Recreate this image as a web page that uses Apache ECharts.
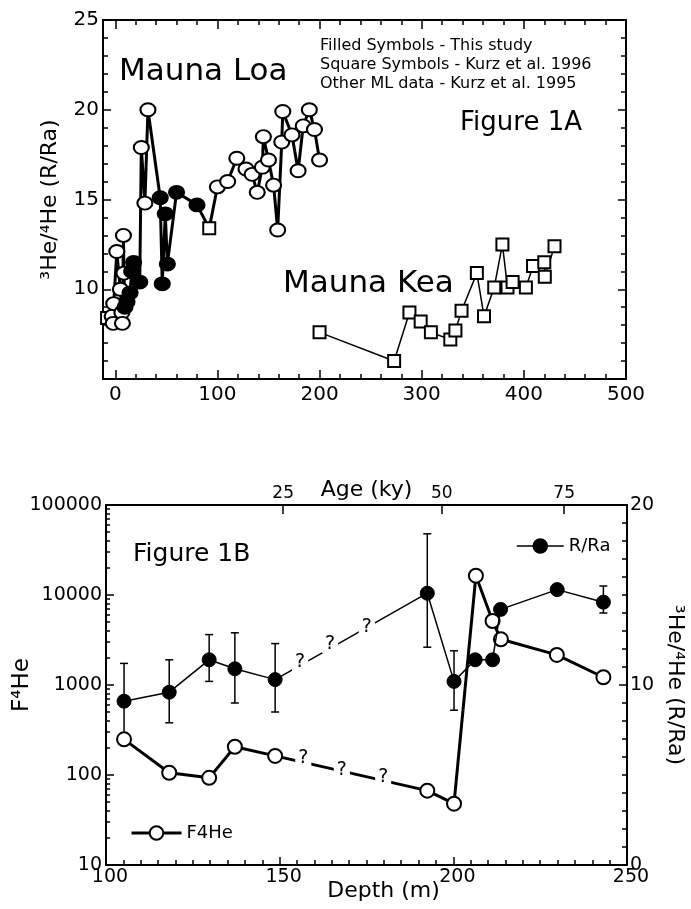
<!DOCTYPE html>
<html>
<head>
<meta charset="utf-8">
<script src="https://cdn.jsdelivr.net/npm/echarts@6/dist/echarts.min.js"></script>
<style>
html, body { margin: 0; padding: 0; background: #fff; }
#chart { width: 691px; height: 909px; }
</style>
</head>
<body>
<div id="chart"></div>
<script>
// ---- Figure 1A : Mauna Loa (o = open circle, f = filled circle, s = square)
var mlDepth = [-8, -3, -2, -1.5, 1.5, 5, 6.5, 7, 8, 8.5, 9.5, 11.5, 14.5, 16, 18, 24, 25.5, 29, 32, 44, 46, 49, 51, 60, 80, 92,
    100, 110, 119, 128, 134, 139, 144, 145, 150, 155, 159, 163, 164, 173, 179, 184, 190, 195, 200];
var mlRatio = [8.4, 8.5, 8.1, 9.2, 12.1, 10.0, 8.7, 8.1, 13.0, 10.9, 9.0, 9.3, 9.8, 11.0, 11.5, 10.4, 17.9, 14.8, 20.0, 15.1, 10.3, 14.2, 11.4, 15.4, 14.7, 13.4,
    15.7, 16.0, 17.3, 16.7, 16.4, 15.4, 16.8, 18.5, 17.2, 15.8, 13.3, 18.2, 19.9, 18.6, 16.6, 19.1, 20.0, 18.9, 17.2];
var mlKind = ['s', 'o', 'o', 'o', 'o', 'o', 'o', 'o', 'o', 'o', 'f', 'f', 'f', 'f', 'f', 'f', 'o', 'o', 'o', 'f', 'f', 'f', 'f', 'f', 'f', 's',
    'o', 'o', 'o', 'o', 'o', 'o', 'o', 'o', 'o', 'o', 'o', 'o', 'o', 'o', 'o', 'o', 'o', 'o', 'o'];

// Mauna Kea (squares)
var mkDepth = [200, 273, 288, 299, 309, 328, 333, 339, 354, 361, 371, 379, 384, 389, 402, 409, 420, 420.5, 430];
var mkRatio = [7.6, 6.0, 8.7, 8.2, 7.6, 7.2, 7.7, 8.8, 10.9, 8.5, 10.1, 12.5, 10.1, 10.4, 10.1, 11.3, 11.5, 10.7, 12.4];

var xLabelsA = [0, 100, 200, 300, 400, 500];

// ---- Figure 1B
var rrDepth = [105.2, 118.2, 129.7, 137.1, 148.7, 192.5, 200.2, 206.3, 211.3, 213.6, 229.9, 243.2];
var rrValue = [9.1, 9.6, 11.4, 10.9, 10.3, 15.1, 10.2, 11.4, 11.4, 14.2, 15.3, 14.6];
var rrHigh = [11.2, 11.4, 12.8, 12.9, 12.3, 18.4, 11.9, null, null, 14.5, null, 15.5];
var rrLow = [7.3, 7.9, 10.2, 9.0, 8.5, 12.1, 8.6, null, null, 13.9, null, 14.0];

var fhDepth = [105.2, 118.2, 129.7, 137.1, 148.7, 192.5, 200.2, 206.5, 211.3, 213.7, 229.8, 243.2];
var fhValue = [249, 106, 93, 206, 163, 67, 48, 16400, 5140, 3220, 2160, 1220];

// the "?" marks on the uncertain stretch
var rrQDepth = [155.9, 164.5, 175.1];
var rrQValue = [11.3, 12.3, 13.2];
var fhQDepth = [156.8, 167.9, 179.8];
var fhQValue = [153, 114, 96];

// age scale on top (depth position of each age)
var ageDepth = [151, 196.7, 231.9];
var ageLabel = ['25', '50', '75'];

var black = '#000';
var fnt = 'DejaVu Sans';

var minorA = [];
for (var t = 0; t <= 500; t += 20) minorA.push(t);
var logMinor = [];
[10, 100, 1000, 10000].forEach(function (d) {
    for (var k = 2; k <= 9; k++) logMinor.push(d * k);
});

function line(show) {
    return {show: show, onZero: false, lineStyle: {color: black, width: 2}};
}
function tick(len, vals) {
    var o = {show: true, inside: true, length: len, lineStyle: {color: black, width: 1.5}};
    if (vals) o.customValues = vals;
    return o;
}
var noLabel = {show: false};
var noSplit = {show: false};

var mlData = mlDepth.map(function (d, i) {
    var k = mlKind[i];
    return {
        value: [d, mlRatio[i]],
        symbol: k === 's' ? 'rect' : 'circle',
        symbolSize: k === 's' ? 12 : [15, 13],
        itemStyle: {color: k === 'f' ? black : '#fff'}
    };
});
var mkData = mkDepth.map(function (d, i) { return [d, mkRatio[i]]; });
var rrData = rrDepth.map(function (d, i) { return [d, rrValue[i]]; });
var fhData = fhDepth.map(function (d, i) { return [d, fhValue[i]]; });
var errData = [];
rrDepth.forEach(function (d, i) {
    if (rrHigh[i] != null) errData.push([d, rrHigh[i], rrLow[i]]);
});
var rrQData = rrQDepth.map(function (d, i) { return [d, rrQValue[i]]; });
var fhQData = fhQDepth.map(function (d, i) { return [d, fhQValue[i]]; });

function renderErr(params, api) {
    var hi = api.coord([api.value(0), api.value(1)]);
    var lo = api.coord([api.value(0), api.value(2)]);
    var c = 4;
    var st = {stroke: black, lineWidth: 1.5};
    return {
        type: 'group',
        children: [
            {type: 'line', shape: {x1: hi[0], y1: hi[1], x2: lo[0], y2: lo[1]}, style: st},
            {type: 'line', shape: {x1: hi[0] - c, y1: hi[1], x2: hi[0] + c, y2: hi[1]}, style: st},
            {type: 'line', shape: {x1: lo[0] - c, y1: lo[1], x2: lo[0] + c, y2: lo[1]}, style: st}
        ]
    };
}

// "?" drawn with a white box so it cuts a gap in the line below
function renderQ(params, api) {
    var p = api.coord([api.value(0), api.value(1)]);
    return {
        type: 'text', x: p[0], y: p[1],
        style: {
            text: '?', fill: black, fontSize: 19, fontFamily: fnt,
            align: 'center', verticalAlign: 'middle',
            backgroundColor: '#fff', padding: [0, 3]
        }
    };
}

var axName = {color: black, fontFamily: fnt, fontSize: 22};

var myChart = echarts.init(document.getElementById('chart'));
var option = {
    animation: false,
    textStyle: {fontFamily: fnt, color: black},
    grid: [
        {left: 103, top: 20, width: 523, height: 359, outerBoundsMode: 'none', containLabel: false},
        {left: 106, top: 505, width: 521, height: 360, outerBoundsMode: 'none', containLabel: false}
    ],
    xAxis: [
        {gridIndex: 0, type: 'value', position: 'bottom', min: -12, max: 500,
            axisLine: line(true), axisTick: tick(5, minorA), splitLine: noSplit,
            axisLabel: {customValues: xLabelsA, fontSize: 20, margin: 6, color: black, fontFamily: fnt}},
        {gridIndex: 0, type: 'value', position: 'bottom', min: -12, max: 500,
            axisLine: line(false), axisTick: tick(9, xLabelsA), splitLine: noSplit, axisLabel: noLabel},
        {gridIndex: 0, type: 'value', position: 'top', min: -12, max: 500,
            axisLine: line(true), axisTick: tick(5, minorA), splitLine: noSplit, axisLabel: noLabel},
        {gridIndex: 0, type: 'value', position: 'top', min: -12, max: 500,
            axisLine: line(false), axisTick: tick(9, xLabelsA), splitLine: noSplit, axisLabel: noLabel},
        {gridIndex: 1, type: 'value', position: 'bottom', min: 100, max: 250, interval: 50,
            axisLine: line(true), axisTick: tick(8),
            minorTick: {show: true, splitNumber: 10, length: 5, lineStyle: {color: black, width: 1.5}},
            splitLine: noSplit, minorSplitLine: noSplit,
            axisLabel: {fontSize: 19, margin: 3, color: black, fontFamily: fnt, padding: [0, 0, 0, 8]},
            name: 'Depth (m)', nameLocation: 'middle', nameGap: 15, nameMoveOverlap: false,
            nameTextStyle: {color: black, fontFamily: fnt, fontSize: 22, padding: [0, 0, 0, 34]}},
        {gridIndex: 1, type: 'value', position: 'top', min: 100, max: 250,
            axisLine: line(true), axisTick: tick(9, ageDepth), splitLine: noSplit,
            axisLabel: {customValues: ageDepth, fontSize: 17, margin: 3, color: black, fontFamily: fnt,
                formatter: function (v) {
                    for (var i = 0; i < ageDepth.length; i++) if (Math.abs(ageDepth[i] - v) < 0.01) return ageLabel[i];
                    return '';
                }},
            name: 'Age (ky)', nameLocation: 'middle', nameGap: 4, nameMoveOverlap: false,
            nameTextStyle: axName}
    ],
    yAxis: [
        {gridIndex: 0, type: 'value', position: 'left', min: 5, max: 25, interval: 5,
            axisLine: line(true), axisTick: tick(8),
            minorTick: {show: true, splitNumber: 5, length: 5, lineStyle: {color: black, width: 1.5}},
            splitLine: noSplit, minorSplitLine: noSplit,
            axisLabel: {fontSize: 20, margin: 4, color: black, fontFamily: fnt,
                formatter: function (v) { return v === 5 ? '' : String(v); }},
            name: '³He/⁴He (R/Ra)', nameLocation: 'middle', nameGap: 42, nameMoveOverlap: false,
            nameTextStyle: axName},
        {gridIndex: 0, type: 'value', position: 'right', min: 5, max: 25, interval: 5,
            axisLine: line(true), axisTick: tick(8),
            minorTick: {show: true, splitNumber: 5, length: 5, lineStyle: {color: black, width: 1.5}},
            splitLine: noSplit, minorSplitLine: noSplit, axisLabel: noLabel},
        {gridIndex: 1, type: 'log', position: 'left', min: 10, max: 100000, logBase: 10,
            axisLine: line(true), axisTick: tick(8), splitLine: noSplit,
            axisLabel: {fontSize: 19, margin: 4, color: black, fontFamily: fnt,
                formatter: function (v) { return String(Math.round(v)); }},
            name: 'F⁴He', nameLocation: 'middle', nameGap: 72, nameMoveOverlap: false,
            nameTextStyle: {color: black, fontFamily: fnt, fontSize: 23}},
        {gridIndex: 1, type: 'log', position: 'left', min: 10, max: 100000, logBase: 10,
            axisLine: line(false), axisTick: tick(4, logMinor), splitLine: noSplit, axisLabel: noLabel},
        {gridIndex: 1, type: 'value', position: 'right', min: 0, max: 20, interval: 10,
            axisLine: line(true), axisTick: tick(8),
            minorTick: {show: true, splitNumber: 10, length: 5, lineStyle: {color: black, width: 1.5}},
            splitLine: noSplit, minorSplitLine: noSplit,
            axisLabel: {fontSize: 19, margin: 3, color: black, fontFamily: fnt},
            name: '³He/⁴He (R/Ra)', nameLocation: 'middle', nameGap: 37, nameRotate: -90, nameMoveOverlap: false,
            nameTextStyle: axName}
    ],
    legend: [
        {data: ['R/Ra'], left: 511, top: 532, itemWidth: 47, itemHeight: 17, itemGap: 0, selectedMode: false,
            lineStyle: {color: black, width: 1.5},
            textStyle: {fontSize: 18, color: black, fontFamily: fnt}},
        {data: ['F4He'], left: 125, top: 819, itemWidth: 50, itemHeight: 17, itemGap: 0, selectedMode: false,
            lineStyle: {color: black, width: 3},
            textStyle: {fontSize: 18, color: black, fontFamily: fnt}}
    ],
    graphic: [
        {type: 'text', left: 119, top: 56, style: {text: 'Mauna Loa', fontSize: 31, fontFamily: fnt, fill: black}},
        {type: 'text', left: 283, top: 268, style: {text: 'Mauna Kea', fontSize: 31, fontFamily: fnt, fill: black}},
        {type: 'text', left: 460, top: 110, style: {text: 'Figure 1A', fontSize: 26, fontFamily: fnt, fill: black}},
        {type: 'text', left: 320, top: 36, style: {
            text: 'Filled Symbols - This study\nSquare Symbols - Kurz et al. 1996\nOther ML data - Kurz et al. 1995',
            fontSize: 16, lineHeight: 19, fontFamily: fnt, fill: black}},
        {type: 'text', left: 133, top: 542, style: {text: 'Figure 1B', fontSize: 25, fontFamily: fnt, fill: black}}
    ],
    series: [
        {type: 'line', xAxisIndex: 0, yAxisIndex: 0, data: mlData, showAllSymbol: true,
            lineStyle: {color: black, width: 3},
            itemStyle: {borderColor: black, borderWidth: 2}, z: 3},
        {type: 'line', xAxisIndex: 0, yAxisIndex: 0, data: mkData, symbol: 'rect', symbolSize: 12,
            lineStyle: {color: black, width: 1.5},
            itemStyle: {color: '#fff', borderColor: black, borderWidth: 2}, z: 3},
        {name: 'F4He', type: 'line', xAxisIndex: 4, yAxisIndex: 2, data: fhData,
            symbol: 'circle', symbolSize: 14,
            lineStyle: {color: black, width: 3},
            itemStyle: {color: '#fff', borderColor: black, borderWidth: 2}, z: 3},
        {name: 'R/Ra', type: 'line', xAxisIndex: 4, yAxisIndex: 4, data: rrData,
            symbol: 'circle', symbolSize: 14,
            lineStyle: {color: black, width: 1.5},
            itemStyle: {color: black, borderColor: black, borderWidth: 1}, z: 4},
        {type: 'custom', xAxisIndex: 4, yAxisIndex: 4, data: errData, renderItem: renderErr, z: 3},
        {type: 'custom', xAxisIndex: 4, yAxisIndex: 4, data: rrQData, renderItem: renderQ, z: 6},
        {type: 'custom', xAxisIndex: 4, yAxisIndex: 2, data: fhQData, renderItem: renderQ, z: 6}
    ]
};
myChart.setOption(option);
window.addEventListener('resize', function () { myChart.resize(); });
</script>
</body>
</html>
